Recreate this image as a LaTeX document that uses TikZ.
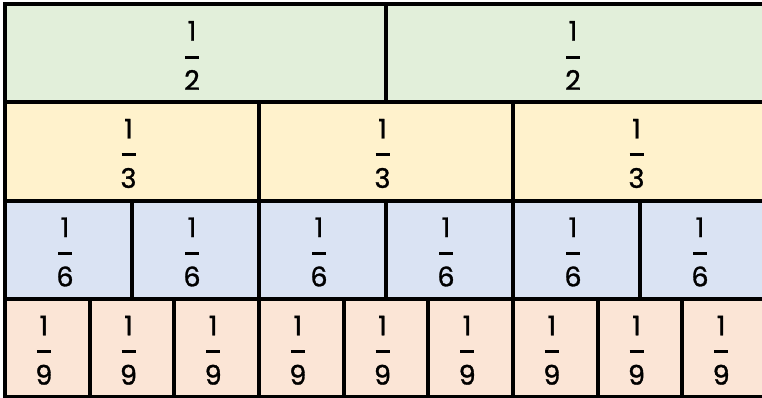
\documentclass[tikz,border=0pt]{standalone}
\usepackage{fontspec}
\setmainfont{Poppins}[FakeBold=1.2]
\usetikzlibrary{calc}
\definecolor{rowgreen}{HTML}{E2EFDA}
\definecolor{rowyellow}{HTML}{FFF2CC}
\definecolor{rowblue}{HTML}{DAE3F3}
\definecolor{rowsalmon}{HTML}{FBE5D6}
\newcommand\fr[1]{\vbox{\offinterlineskip\halign{\hfil##\hfil\cr 1\cr\noalign{\kern15pt}\rule{14pt}{3pt}\cr\noalign{\kern11.5pt}#1\cr}}}
\tikzset{
  cell/.style={draw=black, line width=4pt, rectangle, inner sep=0pt, outer sep=0pt},
  fraclabel/.style={inner sep=0pt, font=\fontsize{27}{30}\selectfont, text=black}
}
\begin{document}
\begin{tikzpicture}[x=1pt,y=1pt]
\clip (0,0) rectangle (762,-398);
\fill[white] (0,0) rectangle (762,-398);
% row 1: halves
\foreach \i in {1,2} {
  \node[cell, fill=rowgreen, minimum width=381pt, minimum height=97.5pt] (h\i) at ({5+(\i-0.5)*381}, -53.25) {};
  \node[fraclabel] (fh\i) at ($(h\i.center)+(-3.5,-2.25)$) {\fr{2}};
}
% row 2: thirds
\foreach \i in {1,2,3} {
  \node[cell, fill=rowyellow, minimum width=254pt, minimum height=98.5pt] (t\i) at ({5+(\i-0.5)*254}, -151.25) {};
  \node[fraclabel] (ft\i) at ($(t\i.center)+(-3.5,-2.25)$) {\fr{3}};
}
% row 3: sixths
\foreach \i in {1,...,6} {
  \node[cell, fill=rowblue, minimum width=127pt, minimum height=98.5pt] (s\i) at ({5+(\i-0.5)*127}, -249.75) {};
  \node[fraclabel] (fs\i) at ($(s\i.center)+(-3.5,-2.25)$) {\fr{6}};
}
% row 4: ninths
\foreach \i in {1,...,9} {
  \node[cell, fill=rowsalmon, minimum width=84.667pt, minimum height=98pt] (n\i) at ({5+(\i-0.5)*84.667}, -348) {};
  \node[fraclabel] (fn\i) at ($(n\i.center)+(-3.5,-2.25)$) {\fr{9}};
}
\end{tikzpicture}
\end{document}
